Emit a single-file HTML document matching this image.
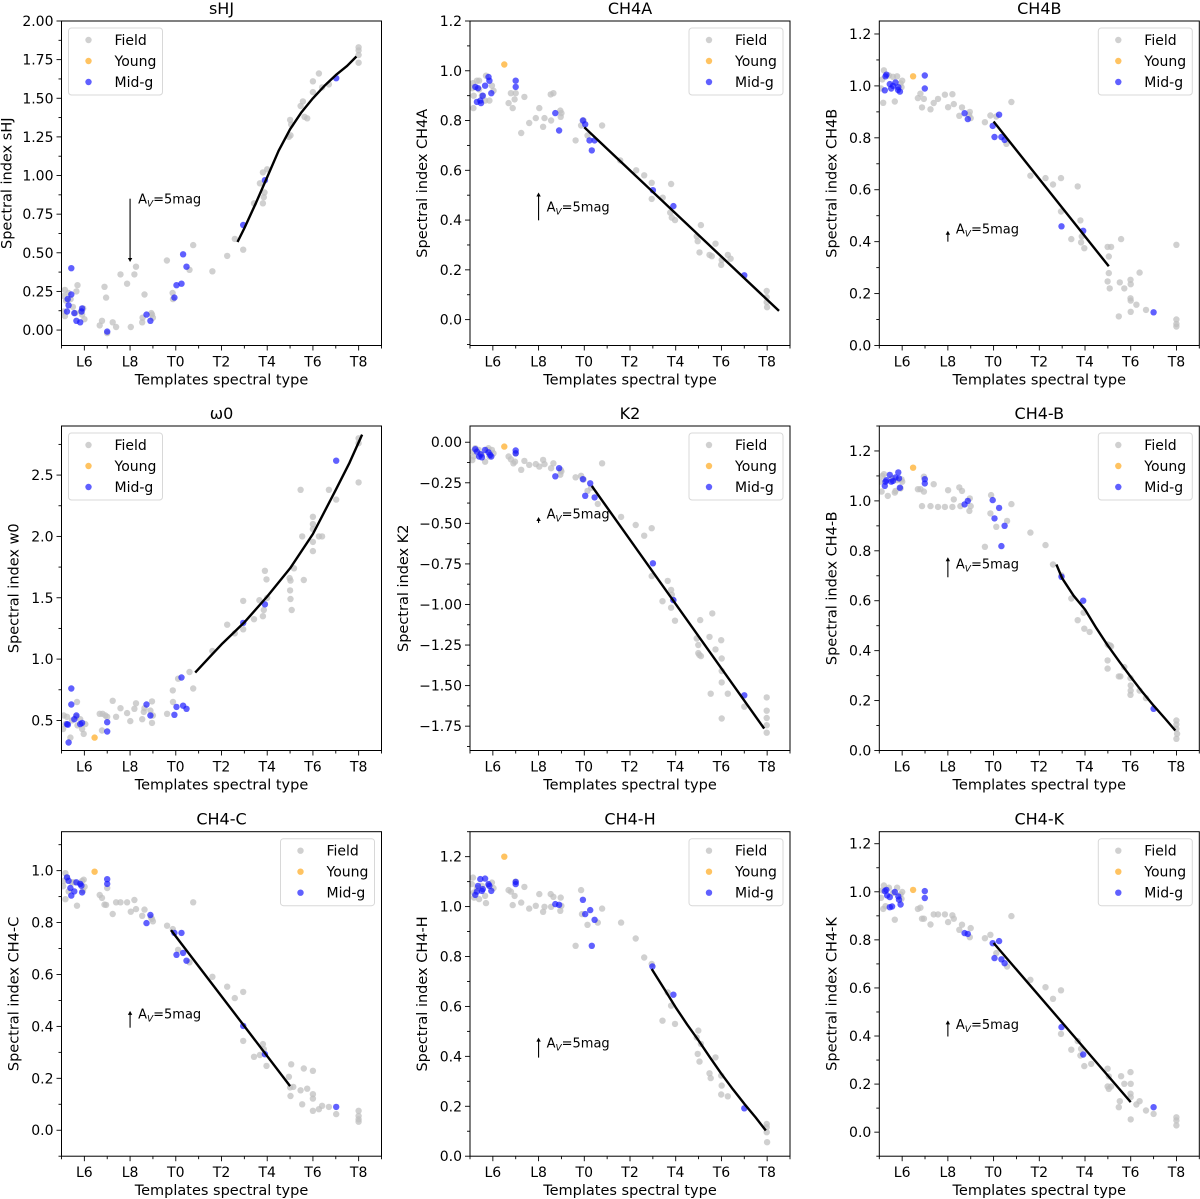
<!DOCTYPE html>
<html><head><meta charset="utf-8"><style>
html,body{margin:0;padding:0;background:#fff}
svg{display:block;font-family:"DejaVu Sans","Liberation Sans",sans-serif}
</style></head><body>
<svg id="fig" width="1200" height="1199" viewBox="0 0 1200 1199" xmlns="http://www.w3.org/2000/svg"></svg>
<script>
// ---------- data ----------
const xTickValues=[16,18,20,22,24,26,28];
const xTickLabels=["L6","L8","T0","T2","T4","T6","T8"];

const sHJ_field=[[15.1,0.22],[15.15,0.26],[15.2,0.19],[15.1,0.12],[15.15,0.09],[15.3,0.24],[15.7,0.29],[15.65,0.25],[15.5,0.15],[15.6,0.11],[15.9,0.10],[15.95,0.14],[16.0,0.07],[15.85,0.12],[15.4,0.2],[16.67,0.03],[16.77,0.06],[16.88,0.28],[16.95,0.21],[17.0,-0.02],[17.24,0.05],[17.39,0.02],[17.58,0.36],[17.87,0.30],[18.03,0.02],[18.19,0.36],[18.26,0.41],[18.63,0.23],[18.53,0.05],[18.55,0.08],[18.96,0.1],[19.0,0.08],[18.93,0.11],[19.61,0.45],[19.86,0.24],[19.88,0.2],[20.6,0.39],[20.76,0.55],[21.6,0.38],[22.25,0.48],[22.58,0.59],[22.95,0.52],[23.42,0.82],[23.68,0.95],[23.81,1.02],[23.85,0.86],[23.88,0.89],[23.81,0.82],[24.0,1.04],[24.95,1.25],[25.0,1.36],[25.02,1.26],[25.05,1.33],[25.46,1.45],[25.56,1.48],[25.63,1.38],[25.75,1.37],[26.0,1.61],[26.0,1.54],[26.26,1.66],[26.4,1.57],[26.7,1.59],[28.0,1.83],[28.0,1.81],[28.0,1.78],[28.0,1.73]];
const sHJ_young=[];
const sHJ_midg=[[15.43,0.40],[15.27,0.20],[15.43,0.23],[15.31,0.16],[15.24,0.12],[15.56,0.11],[15.65,0.06],[15.82,0.05],[15.9,0.14],[15.88,0.12],[17.0,-0.01],[18.72,0.10],[18.89,0.06],[19.94,0.21],[20.03,0.29],[20.25,0.30],[20.32,0.49],[20.47,0.41],[22.95,0.68],[23.9,0.97],[27.02,1.63]];
const sHJ_fit=[[22.7,0.57],[23,0.66],[23.5,0.82],[24,0.99],[24.5,1.16],[25,1.30],[25.5,1.41],[26,1.50],[26.5,1.58],[27,1.65],[27.5,1.71],[27.9,1.77]];
const sHJ_yTicks=[0,0.25,0.5,0.75,1.0,1.25,1.5,1.75,2.0];
const sHJ_yLabels=["0.00","0.25","0.50","0.75","1.00","1.25","1.50","1.75","2.00"];

const CH4A_field=[[15.13,0.95],[15.1,0.93],[15.16,0.90],[15.15,0.85],[15.3,0.96],[15.4,0.96],[15.52,0.90],[15.66,0.88],[15.7,0.98],[15.85,0.88],[15.96,0.94],[16.03,0.92],[15.4,0.925],[16.69,0.87],[16.79,0.91],[16.87,0.85],[16.95,0.885],[17.0,0.91],[17.38,0.895],[17.24,0.75],[17.59,0.79],[17.88,0.81],[18.03,0.85],[18.2,0.775],[18.26,0.81],[18.53,0.905],[18.65,0.91],[18.55,0.80],[18.95,0.84],[18.97,0.815],[19.0,0.83],[19.62,0.72],[19.86,0.78],[19.97,0.80],[20.14,0.74],[20.78,0.78],[21.57,0.64],[22.27,0.60],[22.62,0.58],[22.95,0.55],[22.95,0.485],[23.43,0.49],[23.8,0.545],[23.76,0.43],[23.83,0.41],[23.97,0.40],[24.92,0.335],[24.96,0.315],[25.04,0.27],[25.1,0.38],[25.48,0.26],[25.58,0.255],[25.74,0.305],[25.99,0.22],[26.01,0.24],[26.28,0.26],[26.4,0.245],[27.98,0.115],[27.98,0.09],[27.98,0.07],[28.0,0.05]];
const CH4A_young=[[16.5,1.025]];
const CH4A_midg=[[15.23,0.935],[15.35,0.93],[15.3,0.875],[15.45,0.88],[15.48,0.87],[15.56,0.90],[15.66,0.94],[15.81,0.975],[15.85,0.96],[15.93,0.91],[17.0,0.96],[17.0,0.935],[18.73,0.83],[18.9,0.76],[19.94,0.80],[20.04,0.785],[20.23,0.72],[20.45,0.72],[20.33,0.68],[23.0,0.52],[23.9,0.456],[27.0,0.178]];
const CH4A_fit=[[20.0,0.773],[28.52,0.035]];
const CH4A_yTicks=[0,0.2,0.4,0.6,0.8,1.0,1.2];
const CH4A_yLabels=["0.0","0.2","0.4","0.6","0.8","1.0","1.2"];

const CH4B_field=[[15.2,1.06],[15.13,1.025],[15.17,0.935],[15.08,0.99],[15.42,1.04],[15.6,1.035],[15.68,0.94],[15.78,1.037],[15.93,1.01],[16.0,1.02],[15.97,0.995],[16.69,0.953],[16.8,0.97],[16.87,0.917],[16.95,0.95],[17.24,0.91],[17.38,0.934],[17.57,0.95],[17.87,0.966],[18.01,0.918],[18.2,0.968],[18.26,0.93],[18.5,0.885],[18.62,0.917],[18.96,0.90],[19.0,0.876],[18.93,0.888],[19.62,0.86],[19.86,0.886],[20.12,0.882],[20.56,0.777],[20.78,0.938],[21.61,0.654],[22.27,0.645],[22.6,0.62],[22.95,0.645],[22.95,0.516],[23.4,0.41],[23.68,0.613],[23.8,0.482],[23.83,0.397],[23.86,0.42],[23.97,0.375],[24.99,0.38],[25.04,0.343],[25.04,0.279],[24.99,0.247],[25.08,0.22],[25.14,0.38],[25.58,0.41],[25.52,0.243],[25.72,0.22],[25.48,0.112],[25.99,0.253],[26.0,0.236],[25.99,0.182],[26.0,0.173],[26.0,0.13],[26.25,0.157],[26.39,0.281],[26.67,0.137],[28.0,0.388],[28.0,0.1],[28.0,0.083],[28.0,0.073]];
const CH4B_young=[[16.48,1.037]];
const CH4B_midg=[[15.27,1.037],[15.31,1.043],[15.24,0.983],[15.46,1.007],[15.52,0.99],[15.6,1.0],[15.71,1.013],[15.83,0.995],[15.9,0.978],[15.82,0.985],[16.99,1.04],[16.99,0.99],[18.73,0.895],[18.87,0.872],[19.96,0.846],[20.04,0.803],[20.24,0.889],[20.34,0.803],[20.48,0.792],[22.97,0.459],[23.92,0.442],[27.0,0.128]];
const CH4B_fit=[[20.0,0.863],[25.04,0.305]];
const CH4B_yTicks=[0,0.2,0.4,0.6,0.8,1.0,1.2];
const CH4B_yLabels=["0.0","0.2","0.4","0.6","0.8","1.0","1.2"];

const w0_field=[[15.1,0.54],[15.17,0.47],[15.07,0.43],[15.24,0.53],[15.39,0.36],[15.46,0.5],[15.68,0.65],[15.65,0.53],[15.7,0.46],[15.9,0.43],[15.97,0.39],[15.82,0.51],[16.04,0.47],[16.67,0.554],[16.8,0.554],[16.77,0.418],[16.92,0.54],[17.0,0.53],[17.24,0.66],[17.39,0.53],[17.58,0.6],[17.87,0.56],[18.01,0.495],[18.19,0.595],[18.26,0.64],[18.53,0.51],[18.6,0.57],[18.63,0.6],[18.96,0.655],[18.96,0.48],[19.0,0.54],[18.89,0.58],[19.62,0.554],[19.87,0.745],[19.88,0.65],[20.1,0.84],[20.6,0.895],[20.76,0.76],[21.6,1.066],[22.25,1.28],[22.58,1.21],[22.95,1.474],[22.95,1.243],[23.42,1.325],[23.66,1.48],[23.81,1.35],[23.85,1.40],[23.9,1.72],[23.97,1.65],[24.0,1.5],[24.98,1.66],[25.0,1.56],[25.02,1.64],[25.02,1.49],[25.07,1.40],[25.17,1.74],[25.46,2.38],[25.53,2.0],[25.6,1.645],[26.0,2.16],[26.0,2.1],[26.0,2.06],[26.0,1.955],[26.0,1.88],[26.26,2.0],[26.4,2.0],[26.7,2.38],[27.02,2.3],[28.0,2.8],[28.0,2.76],[28.0,2.44]];
const w0_young=[[16.45,0.36]];
const w0_midg=[[15.43,0.76],[15.43,0.63],[15.24,0.47],[15.28,0.465],[15.31,0.32],[15.56,0.51],[15.65,0.54],[15.82,0.47],[15.9,0.48],[17.0,0.486],[17.0,0.41],[18.72,0.63],[18.89,0.54],[19.94,0.546],[20.03,0.61],[20.25,0.85],[20.32,0.62],[20.47,0.595],[22.95,1.295],[23.9,1.447],[27.02,2.617]];
const w0_fit=[[20.85,0.89],[21.5,1.02],[22,1.12],[23,1.30],[24,1.51],[25,1.74],[26,2.02],[27,2.38],[27.6,2.6],[28.15,2.83]];
const w0_yTicks=[0.5,1.0,1.5,2.0,2.5];
const w0_yLabels=["0.5","1.0","1.5","2.0","2.5"];

const K2_field=[[15.13,-0.058],[15.16,-0.088],[15.1,-0.11],[15.23,-0.037],[15.38,-0.047],[15.52,-0.078],[15.66,-0.12],[15.76,-0.047],[15.85,-0.088],[15.96,-0.047],[16.03,-0.068],[15.81,-0.037],[16.69,-0.088],[16.79,-0.105],[16.9,-0.13],[16.97,-0.12],[17.0,-0.068],[17.24,-0.17],[17.38,-0.115],[17.59,-0.14],[17.88,-0.135],[18.03,-0.15],[18.2,-0.109],[18.26,-0.135],[18.55,-0.16],[18.65,-0.13],[18.95,-0.2],[18.97,-0.17],[19.0,-0.18],[19.62,-0.216],[19.86,-0.207],[19.97,-0.23],[20.14,-0.30],[20.3,-0.28],[20.59,-0.38],[20.78,-0.13],[21.61,-0.46],[22.25,-0.51],[22.62,-0.576],[22.95,-0.53],[22.95,-0.825],[23.42,-0.98],[23.65,-0.855],[23.8,-0.91],[23.83,-0.94],[23.8,-1.02],[23.97,-1.1],[23.88,-0.97],[24.92,-1.21],[24.99,-1.25],[24.99,-1.3],[25.03,-1.31],[25.1,-1.318],[25.07,-1.096],[25.48,-1.2],[25.53,-1.55],[25.6,-1.055],[25.74,-1.277],[25.99,-1.22],[26.01,-1.333],[26.01,-1.41],[26.01,-1.48],[26.01,-1.703],[26.28,-1.55],[27.0,-1.63],[27.98,-1.573],[27.98,-1.655],[27.98,-1.7],[27.98,-1.744],[27.98,-1.79]];
const K2_young=[[16.5,-0.027]];
const K2_midg=[[15.23,-0.043],[15.3,-0.058],[15.4,-0.088],[15.52,-0.093],[15.47,-0.074],[15.66,-0.047],[15.81,-0.062],[15.88,-0.078],[15.93,-0.088],[17.0,-0.051],[17.0,-0.068],[18.9,-0.16],[18.73,-0.21],[19.94,-0.228],[20.04,-0.33],[20.26,-0.253],[20.45,-0.34],[23.0,-0.746],[23.9,-0.973],[27.0,-1.56]];
const K2_fit=[[20.33,-0.27],[27.87,-1.765]];
const K2_yTicks=[-1.75,-1.5,-1.25,-1.0,-0.75,-0.5,-0.25,0];
const K2_yLabels=["\u22121.75","\u22121.50","\u22121.25","\u22121.00","\u22120.75","\u22120.50","\u22120.25","0.00"];

const CH4mB_field=[[15.13,1.1],[15.05,1.077],[15.1,1.037],[15.2,1.107],[15.37,1.02],[15.56,1.09],[15.68,1.033],[15.71,1.04],[15.78,1.083],[15.97,1.086],[16.0,1.077],[15.93,1.05],[16.69,1.047],[16.8,1.047],[16.87,0.979],[16.95,1.097],[16.95,1.037],[17.24,0.979],[17.38,1.067],[17.57,0.976],[17.87,0.976],[18.01,1.043],[18.2,0.976],[18.26,1.006],[18.5,1.054],[18.62,1.04],[18.55,0.979],[18.96,1.01],[19.0,0.979],[18.94,0.96],[19.62,0.816],[19.89,1.023],[19.86,0.95],[20.12,0.896],[20.59,0.92],[20.78,0.987],[21.61,0.873],[22.27,0.823],[22.6,0.745],[22.97,0.702],[23.4,0.609],[23.68,0.522],[23.94,0.552],[23.97,0.488],[24.2,0.475],[24.99,0.425],[25.04,0.421],[25.1,0.421],[24.99,0.361],[24.99,0.328],[25.14,0.417],[25.48,0.297],[25.55,0.297],[25.72,0.334],[25.99,0.29],[26.0,0.261],[26.0,0.24],[25.99,0.223],[26.39,0.24],[26.67,0.21],[28.0,0.12],[28.0,0.104],[28.0,0.087],[28.03,0.067],[28.0,0.047]];
const CH4mB_young=[[16.48,1.133]];
const CH4mB_midg=[[15.24,1.06],[15.27,1.077],[15.31,1.083],[15.46,1.104],[15.52,1.077],[15.6,1.08],[15.71,1.094],[15.83,1.114],[15.86,1.09],[15.9,1.053],[16.99,1.087],[16.99,1.07],[18.73,0.986],[18.87,1.0],[19.96,1.003],[20.04,0.93],[20.24,0.972],[20.34,0.819],[20.48,0.9],[22.97,0.696],[23.92,0.6],[27.0,0.167]];
const CH4mB_fit=[[22.75,0.745],[23,0.69],[23.5,0.62],[24,0.565],[24.5,0.49],[25,0.42],[25.5,0.356],[26,0.295],[26.5,0.235],[27,0.18],[27.5,0.128],[27.95,0.08]];
const CH4mB_yTicks=[0,0.2,0.4,0.6,0.8,1.0,1.2];
const CH4mB_yLabels=["0.0","0.2","0.4","0.6","0.8","1.0","1.2"];

const CH4C_field=[[15.17,0.99],[15.1,0.96],[15.07,0.94],[15.17,0.89],[15.24,0.974],[15.31,0.92],[15.46,0.955],[15.56,0.955],[15.68,0.865],[15.82,0.951],[15.9,0.96],[15.97,0.965],[16.01,0.938],[15.94,0.923],[16.67,0.906],[16.77,0.895],[16.88,0.869],[16.95,0.868],[17.0,0.933],[17.24,0.833],[17.39,0.878],[17.58,0.878],[17.87,0.878],[18.03,0.842],[18.19,0.887],[18.26,0.852],[18.53,0.826],[18.63,0.85],[18.96,0.814],[19.0,0.805],[18.91,0.82],[19.62,0.788],[19.87,0.775],[20.1,0.695],[20.6,0.647],[20.76,0.878],[21.6,0.591],[22.25,0.553],[22.58,0.509],[22.95,0.533],[22.95,0.344],[23.42,0.283],[23.68,0.29],[23.81,0.332],[23.85,0.312],[23.97,0.248],[24.95,0.206],[25.0,0.165],[25.02,0.132],[25.05,0.254],[25.14,0.167],[25.46,0.154],[25.53,0.1],[25.6,0.238],[25.75,0.16],[26.0,0.229],[26.0,0.139],[26.0,0.122],[26.0,0.075],[26.26,0.081],[26.4,0.094],[26.7,0.09],[27.02,0.062],[28.0,0.075],[28.0,0.055],[28.0,0.042],[28.0,0.033]];
const CH4C_young=[[16.45,0.996]];
const CH4C_midg=[[15.24,0.974],[15.31,0.961],[15.39,0.933],[15.43,0.904],[15.56,0.92],[15.65,0.955],[15.82,0.949],[15.87,0.942],[15.9,0.916],[17.0,0.967],[17.0,0.949],[18.72,0.798],[18.89,0.829],[19.94,0.76],[20.03,0.676],[20.25,0.76],[20.32,0.683],[20.47,0.653],[22.95,0.402],[23.9,0.293],[27.02,0.09]];
const CH4C_fit=[[19.79,0.771],[25.0,0.17]];
const CH4C_yTicks=[0,0.2,0.4,0.6,0.8,1.0];
const CH4C_yLabels=["0.0","0.2","0.4","0.6","0.8","1.0"];

const CH4H_field=[[15.13,1.116],[15.08,1.09],[15.16,1.056],[15.18,1.036],[15.3,1.074],[15.4,1.03],[15.52,1.083],[15.66,1.043],[15.7,1.014],[15.81,1.086],[15.96,1.096],[16.03,1.074],[16.69,1.066],[16.79,1.06],[16.87,1.006],[16.95,1.043],[17.0,1.1],[17.24,1.016],[17.38,1.079],[17.59,0.992],[17.88,1.003],[18.03,1.05],[18.2,0.979],[18.26,0.999],[18.53,1.05],[18.65,1.039],[18.55,0.999],[18.95,0.983],[18.97,1.036],[19.0,1.003],[19.62,0.843],[19.86,1.066],[19.9,0.97],[20.14,0.927],[20.59,0.936],[20.78,0.992],[21.61,0.936],[22.25,0.872],[22.62,0.796],[22.95,0.77],[23.42,0.543],[23.65,0.656],[23.8,0.603],[23.97,0.53],[24.92,0.476],[24.99,0.503],[24.96,0.41],[25.04,0.379],[25.1,0.45],[25.48,0.332],[25.53,0.313],[25.74,0.396],[25.99,0.323],[26.01,0.283],[25.99,0.247],[26.28,0.24],[27.98,0.129],[27.98,0.116],[27.98,0.096],[28.0,0.056]];
const CH4H_young=[[16.5,1.2]];
const CH4H_midg=[[15.23,1.047],[15.3,1.06],[15.35,1.083],[15.45,1.11],[15.52,1.063],[15.56,1.07],[15.66,1.112],[15.81,1.09],[15.85,1.083],[15.93,1.063],[17.0,1.099],[17.0,1.09],[18.73,1.01],[18.9,1.007],[19.94,1.027],[20.04,0.97],[20.26,0.986],[20.45,0.947],[20.33,0.843],[22.98,0.76],[23.9,0.647],[27.0,0.192]];
const CH4H_fit=[[22.95,0.75],[23.5,0.67],[24,0.596],[24.5,0.528],[25,0.463],[25.5,0.396],[26,0.33],[26.5,0.268],[27,0.21],[27.5,0.155],[27.94,0.103]];
const CH4H_yTicks=[0,0.2,0.4,0.6,0.8,1.0,1.2];
const CH4H_yLabels=["0.0","0.2","0.4","0.6","0.8","1.0","1.2"];

const CH4K_field=[[15.2,1.026],[15.13,1.006],[15.17,0.929],[15.08,0.975],[15.42,1.017],[15.6,0.995],[15.68,0.884],[15.78,1.017],[15.93,0.989],[16.0,0.999],[15.97,0.971],[15.27,0.94],[16.69,0.929],[16.8,0.934],[16.87,0.888],[16.95,0.888],[17.24,0.864],[17.38,0.906],[17.57,0.906],[17.87,0.906],[18.01,0.874],[18.2,0.902],[18.26,0.888],[18.5,0.842],[18.62,0.863],[19.0,0.849],[18.96,0.811],[19.62,0.807],[19.86,0.821],[20.12,0.745],[20.59,0.689],[20.78,0.899],[21.61,0.634],[22.27,0.603],[22.6,0.555],[22.95,0.59],[22.95,0.409],[23.4,0.343],[23.68,0.379],[23.8,0.319],[23.83,0.347],[23.97,0.275],[24.27,0.284],[24.99,0.264],[25.04,0.232],[24.99,0.19],[25.04,0.18],[25.14,0.19],[25.58,0.233],[25.52,0.129],[25.48,0.104],[25.72,0.201],[25.99,0.25],[26.0,0.201],[25.99,0.16],[26.0,0.146],[26.0,0.053],[26.25,0.115],[26.39,0.129],[26.67,0.09],[27.0,0.076],[28.0,0.062],[28.0,0.049],[28.0,0.028]];
const CH4K_young=[[16.48,1.008]];
const CH4K_midg=[[15.24,1.003],[15.31,1.008],[15.34,0.985],[15.46,0.978],[15.46,0.936],[15.56,0.939],[15.68,0.999],[15.83,0.981],[15.86,0.967],[15.93,0.947],[16.99,1.003],[16.99,0.974],[18.73,0.828],[18.87,0.825],[19.96,0.786],[20.04,0.724],[20.24,0.795],[20.34,0.719],[20.48,0.703],[22.97,0.437],[23.92,0.323],[27.0,0.104]];
const CH4K_fit=[[20.0,0.787],[26.0,0.125]];
const CH4K_yTicks=[0,0.2,0.4,0.6,0.8,1.0,1.2];
const CH4K_yLabels=["0.0","0.2","0.4","0.6","0.8","1.0","1.2"];

// extinction arrows: [x, yStart, yEnd, textY]
const sHJ_av=[18,0.85,0.44,0.85];
const CH4A_av=[18,0.399,0.511,0.455];
const CH4B_av=[18,0.40,0.442,0.45];
const w0_av=null;
const K2_av=[18,-0.498,-0.461,-0.44];
const CH4mB_av=[18,0.694,0.774,0.75];
const CH4C_av=[18,0.395,0.46,0.45];
const CH4H_av=[18,0.395,0.475,0.455];
const CH4K_av=[18,0.398,0.465,0.45];

// ---------- layout ----------
const NS="http://www.w3.org/2000/svg";
const svg=document.getElementById('fig');
const colL=[61.5,470,879.3], rowT=[21,426,831.7], AW=320, AH=324.5, XMIN=15, XMAX=29;
const panels=[
 {key:'shj',title:'sHJ',yl:'Spectral index sHJ',ylim:[-0.1,2.0],f:sHJ_field,yg:sHJ_young,m:sHJ_midg,fit:sHJ_fit,yt:sHJ_yTicks,ylab:sHJ_yLabels,av:sHJ_av,leg:'L',ylo:54},
 {key:'ch4a',title:'CH4A',yl:'Spectral index CH4A',ylim:[-0.104,1.2],f:CH4A_field,yg:CH4A_young,m:CH4A_midg,fit:CH4A_fit,yt:CH4A_yTicks,ylab:CH4A_yLabels,av:CH4A_av,leg:'R',ylo:47},
 {key:'ch4b',title:'CH4B',yl:'Spectral index CH4B',ylim:[0,1.25],f:CH4B_field,yg:CH4B_young,m:CH4B_midg,fit:CH4B_fit,yt:CH4B_yTicks,ylab:CH4B_yLabels,av:CH4B_av,leg:'R',ylo:47},
 {key:'w0',title:'\u03c90',yl:'Spectral index w0',ylim:[0.255,2.9],f:w0_field,yg:w0_young,m:w0_midg,fit:w0_fit,yt:w0_yTicks,ylab:w0_yLabels,av:w0_av,leg:'L',ylo:47},
 {key:'k2',title:'K2',yl:'Spectral index K2',ylim:[-1.9,0.1],f:K2_field,yg:K2_young,m:K2_midg,fit:K2_fit,yt:K2_yTicks,ylab:K2_yLabels,av:K2_av,leg:'R',ylo:66},
 {key:'ch4-b',title:'CH4-B',yl:'Spectral index CH4-B',ylim:[0,1.3],f:CH4mB_field,yg:CH4mB_young,m:CH4mB_midg,fit:CH4mB_fit,yt:CH4mB_yTicks,ylab:CH4mB_yLabels,av:CH4mB_av,leg:'R',ylo:47},
 {key:'ch4-c',title:'CH4-C',yl:'Spectral index CH4-C',ylim:[-0.1,1.15],f:CH4C_field,yg:CH4C_young,m:CH4C_midg,fit:CH4C_fit,yt:CH4C_yTicks,ylab:CH4C_yLabels,av:CH4C_av,leg:'R',ylo:47},
 {key:'ch4-h',title:'CH4-H',yl:'Spectral index CH4-H',ylim:[0,1.3],f:CH4H_field,yg:CH4H_young,m:CH4H_midg,fit:CH4H_fit,yt:CH4H_yTicks,ylab:CH4H_yLabels,av:CH4H_av,leg:'R',ylo:47},
 {key:'ch4-k',title:'CH4-K',yl:'Spectral index CH4-K',ylim:[-0.1,1.25],f:CH4K_field,yg:CH4K_young,m:CH4K_midg,fit:CH4K_fit,yt:CH4K_yTicks,ylab:CH4K_yLabels,av:CH4K_av,leg:'R',ylo:47}
];
function mk(tag,attrs,parent){const e=document.createElementNS(NS,tag);for(const k in attrs)e.setAttribute(k,attrs[k]);(parent||svg).appendChild(e);return e;}
const COL={field:'rgba(192,192,192,0.75)',young:'rgba(255,170,30,0.7)',midg:'rgba(20,20,255,0.68)'};

panels.forEach((p,i)=>{
  const L=colL[i%3], T=rowT[Math.floor(i/3)], R=L+AW, B=T+AH;
  const xs=v=>L+(v-XMIN)/(XMAX-XMIN)*AW;
  const ys=v=>B-(v-p.ylim[0])/(p.ylim[1]-p.ylim[0])*AH;
  const g=mk('g',{});
  
  
  const cp=mk('clipPath',{id:'cp'+i},g);
  mk('rect',{x:L,y:T,width:AW,height:AH},cp);
  const t=mk('text',{x:L+AW/2,y:T-7,'text-anchor':'middle','font-size':16},g);
  t.textContent=p.title;
  
  
  const sg=mk('g',{'clip-path':'url(#cp'+i+')'},g);
  [['field',p.f],['young',p.yg],['midg',p.m]].forEach(([nm,arr])=>{
    arr.forEach(d=>{
      const c=mk('circle',{cx:xs(d[0]).toFixed(1),cy:ys(d[1]).toFixed(1),r:3.2,fill:COL[nm]},sg);
      
      
    });
  });
  const pl=mk('polyline',{points:p.fit.map(d=>xs(d[0]).toFixed(1)+','+ys(d[1]).toFixed(1)).join(' '),fill:'none',stroke:'#000','stroke-width':2.4,'stroke-linejoin':'round'},sg);
  
  
  const fr=mk('rect',{x:L,y:T,width:AW,height:AH,fill:'none',stroke:'#000','stroke-width':1},g);
  
  
  for(let v=15;v<=29;v++){
    const major=xTickValues.includes(v);
    mk('line',{x1:xs(v),x2:xs(v),y1:B,y2:B+(major?5:3),stroke:'#000','stroke-width':0.9},g);
  }
  xTickValues.forEach((v,k)=>{
    const tx=mk('text',{x:xs(v),y:B+21,'text-anchor':'middle','font-size':14},g);
    tx.textContent=xTickLabels[k];
    
    
  });
  const xl=mk('text',{x:L+AW/2,y:B+39,'text-anchor':'middle','font-size':14.5},g);
  xl.textContent='Templates spectral type';
  
  
  const step=p.yt[1]-p.yt[0];
  for(let v=p.yt[0]-step;v<=p.yt[p.yt.length-1]+step+1e-9;v+=step/2){
    if(v<p.ylim[0]-1e-9||v>p.ylim[1]+1e-9)continue;
    const major=p.yt.some(q=>Math.abs(q-v)<1e-6);
    mk('line',{x1:L-(major?5:3),x2:L,y1:ys(v),y2:ys(v),stroke:'#000','stroke-width':0.9},g);
  }
  p.yt.forEach((v,k)=>{
    const ty=mk('text',{x:L-8,y:ys(v)+5,'text-anchor':'end','font-size':14},g);
    ty.textContent=p.ylab[k];
    
    
  });
  const yx=L-p.ylo, yy=T+AH/2;
  const yl=mk('text',{x:yx,y:yy,'text-anchor':'middle','font-size':14.5,transform:'rotate(-90 '+yx+' '+yy+')','dominant-baseline':'central'},g);
  yl.textContent=p.yl;
  
  
  if(p.av){
    const ax=xs(p.av[0]), a0=ys(p.av[1]), a1=ys(p.av[2]);
    const dir=a1<a0?-1:1;
    const ag=mk('g',{},g);
    
    
    mk('line',{x1:ax,x2:ax,y1:a0,y2:a1-dir*3,stroke:'#000','stroke-width':1.1},ag);
    mk('polygon',{points:`${ax-2.2},${a1-dir*4} ${ax+2.2},${a1-dir*4} ${ax},${a1}`,fill:'#000'},ag);
    const at=mk('text',{x:ax+8,y:ys(p.av[3])+5,'font-size':13},ag);
    at.appendChild(document.createTextNode('A'));
    const sub=mk('tspan',{'font-size':9,'font-style':'italic',dy:3},at);sub.textContent='V';
    const rest=mk('tspan',{dy:-3},at);rest.textContent='=5mag';
  }
  const lx=p.leg==='L'?L+7:R-101, ly=T+7;
  const lg=mk('g',{},g);
  
  
  mk('rect',{x:lx,y:ly,width:94,height:67,rx:3,fill:'rgba(255,255,255,0.8)',stroke:'#d8d8d8','stroke-width':1},lg);
  [['Field','field'],['Young','young'],['Mid-g','midg']].forEach(([lab,nm],k)=>{
    const cy=ly+12+k*21;
    const e=mk('g',{},lg);
    
    
    mk('circle',{cx:lx+20,cy:cy,r:3.2,fill:COL[nm]},e);
    const tt=mk('text',{x:lx+46,y:cy+5,'font-size':14},e);
    tt.textContent=lab;
  });
});
</script>
</body></html>
